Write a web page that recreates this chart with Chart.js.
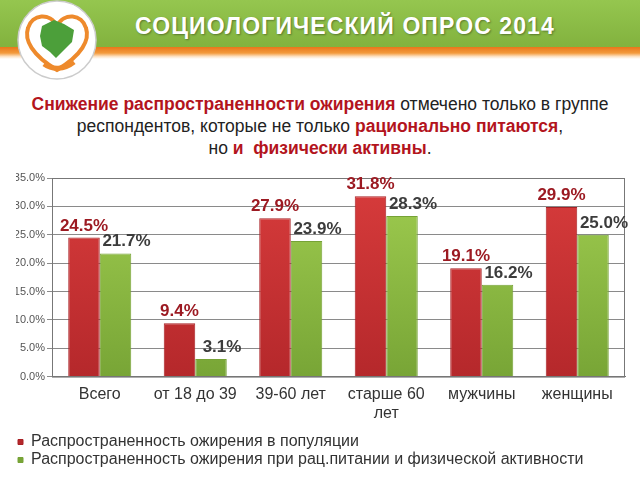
<!DOCTYPE html>
<html>
<head>
<meta charset="utf-8">
<script src="https://cdn.jsdelivr.net/npm/chart.js@4/dist/chart.umd.min.js"></script>
<style>
  body { margin: 0; width: 640px; height: 480px; background: #fff; overflow: hidden; font-family: "Liberation Sans", Arial, sans-serif; position: relative; }
  .head { position: absolute; left: 0; top: 0; width: 640px; height: 47px; background: linear-gradient(#95c64f, #82b23e); }
  .stripe { position: absolute; left: 0; top: 47px; width: 640px; height: 12px; background: linear-gradient(#e8761a, #f39a3c 50%, #fde3c6 80%, #fff); }
  .head h1 { position: absolute; left: 135px; top: 13px; margin: 0; color: #fff; font-size: 23px; letter-spacing: 1.1px; font-weight: bold; text-shadow: 1px 1px 2px rgba(0,0,0,0.35); white-space: nowrap; }
  .logo { position: absolute; left: 12px; top: 0; }
  .sub { position: absolute; left: 0; top: 93px; width: 640px; text-align: center; font-size: 17.5px; line-height: 22px; color: #222; }
  .sub b { color: #b3141d; }
  #wrap { position: absolute; left: 0; top: 160px; width: 640px; height: 318px; }
</style>
</head>
<body>
<div class="head"><h1>СОЦИОЛОГИЧЕСКИЙ ОПРОС 2014</h1></div>
<div class="stripe"></div>
<svg class="logo" width="92" height="82" viewBox="0 0 92 82">
  <circle cx="45" cy="40" r="39" fill="#fff" stroke="#ccc" stroke-width="1.5"/>
  <path d="M45 70 C20 55 12 40 16 28 C20 14 38 12 45 26 C52 12 70 14 74 28 C78 40 70 55 45 70 Z" fill="none" stroke="#ee8a2c" stroke-width="4"/>
  <path d="M30 26 L42 20 L52 24 L62 30 L60 42 L52 50 L44 58 L38 52 L30 46 L28 36 Z" fill="#4c9f3a"/>
  <path d="M32 64 C40 70 52 70 62 62" fill="none" stroke="#ee8a2c" stroke-width="5"/>
</svg>
<div class="sub">
  <b>Снижение распространенности ожирения</b> отмечено только в группе<br>
  респондентов, которые не только <b>рационально питаются</b>,<br>
  но <b>и &nbsp;физически активны</b>.
</div>
<div id="wrap"><canvas id="canvas"></canvas></div>
<script>
// data
const categories = ['Всего', 'от 18 до 39', '39-60 лет', ['старше 60', 'лет'], 'мужчины', 'женщины'];
const seriesNames = ['Распространенность ожирения в популяции', 'Распространенность ожирения при рац.питании и физической активности'];
const population = [24.5, 9.4, 27.9, 31.8, 19.1, 29.9];
const activeGroup = [21.7, 3.1, 23.9, 28.3, 16.2, 25.0];

function vGrad(ctx, area, top, bottom) {
  const g = ctx.createLinearGradient(0, area.top, 0, area.bottom);
  g.addColorStop(0, top);
  g.addColorStop(1, bottom);
  return g;
}

// labels above bars + frame
const labelPlugin = {
  id: 'barLabels',
  afterDatasetsDraw(chart) {
    const ctx = chart.ctx;
    const a = chart.chartArea;
    ctx.save();
    ctx.strokeStyle = '#777';
    ctx.lineWidth = 1;
    ctx.strokeRect(a.left + 0.5, a.top + 0.5, a.right - a.left - 1, a.bottom - a.top);
    ctx.font = 'bold 17px "Liberation Sans", Arial, sans-serif';
    ctx.textAlign = 'center';
    ctx.textBaseline = 'alphabetic';
    chart.data.datasets.forEach((ds, i) => {
      const meta = chart.getDatasetMeta(i);
      ctx.fillStyle = i === 0 ? '#9c1a22' : '#3c3c3c';
      meta.data.forEach((bar, j) => {
        const shift = i === 0 ? 0 : 11;
        ctx.fillText(ds.data[j].toFixed(1) + '%', bar.x + shift, bar.y - 7);
      });
    });
    ctx.restore();
  }
};

const config = {
  type: 'bar',
  data: {
    labels: categories,
    datasets: [
      {
        label: seriesNames[0],
        data: population,
        backgroundColor: c => c.chart.chartArea ? vGrad(c.chart.ctx, c.chart.chartArea, '#d83c3c', '#b5282b') : '#c93232',
        borderColor: '#a82024',
        borderWidth: 1,
      },
      {
        label: seriesNames[1],
        data: activeGroup,
        backgroundColor: c => c.chart.chartArea ? vGrad(c.chart.ctx, c.chart.chartArea, '#a0cd50', '#78a536') : '#8cbc44',
        borderColor: '#76a236',
        borderWidth: 1,
      },
    ],
  },
  options: {
    responsive: true,
    maintainAspectRatio: false,
    animation: false,
    layout: { padding: { top: 18, right: 15, left: 16, bottom: 0 } },
    datasets: { bar: { barPercentage: 1, categoryPercentage: 0.66 } },
    scales: {
      x: {
        grid: { display: false },
        border: { color: '#777' },
        afterFit: s => { s.height += 9; },
        ticks: { color: '#333', font: { size: 16, family: '"Liberation Sans", Arial' }, maxRotation: 0, autoSkip: false, padding: 0 },
      },
      y: {
        min: 0,
        max: 35,
        afterFit: s => { s.width = 36; },
        grid: { color: '#8a8a8a', tickLength: 5 },
        border: { color: '#777' },
        ticks: { stepSize: 5, color: '#555', font: { size: 11, family: '"Liberation Sans", Arial' }, callback: v => v.toFixed(1) + '%', padding: 2 },
      },
    },
    plugins: {
      legend: {
        position: 'bottom',
        align: 'start',
        labels: { boxWidth: 5, boxHeight: 5, color: '#333', font: { size: 16, family: '"Liberation Sans", Arial' }, padding: 2 },
      },
      tooltip: { enabled: false },
    },
  },
  plugins: [labelPlugin],
};

let myChart = new Chart(document.getElementById('canvas'), config);
</script>
</body>
</html>
